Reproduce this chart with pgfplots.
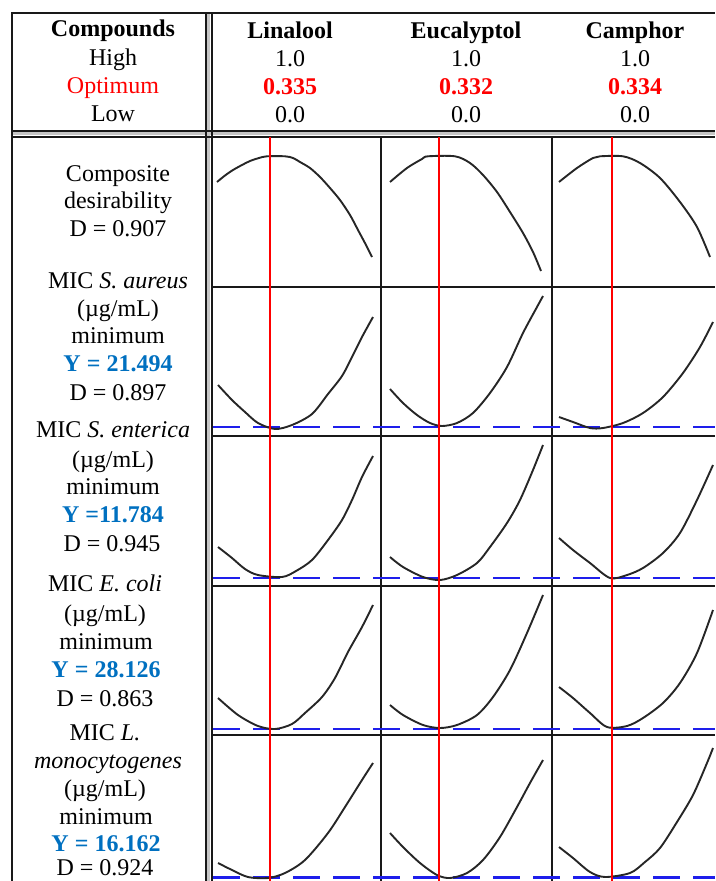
\documentclass[border=0pt]{standalone}
\usepackage{fontspec}
\setmainfont{Liberation Serif}
\usepackage{pgfplots}
\pgfplotsset{compat=1.18}
\definecolor{optred}{RGB}{255,0,0}
\definecolor{yblue}{RGB}{0,112,192}
\definecolor{dashblue}{RGB}{30,30,235}
\tikzset{
  curve/.style={black!85, line width=1.9pt, smooth},
  optline/.style={optred, line width=2pt},
  minline/.style={dashblue, line width=2.4pt, dash pattern=on 27pt off 13pt},
  grid/.style={black!90, line width=2.4pt},
  lbl/.style={font=\fontsize{24}{28}\selectfont, inner sep=0pt, anchor=base},
}
\begin{document}
\begin{tikzpicture}
\begin{axis}[
  scale only axis, width=715pt, height=881pt,
  xmin=0, xmax=715, ymin=0, ymax=881, y dir=reverse,
  ticks=none, axis line style={draw=none},
]
% ---- frame: double lines with grey fill
\fill[gray!45] (axis cs:12,132.2) rectangle (axis cs:715,135.4);
\fill[gray!45] (axis cs:207.2,13) rectangle (axis cs:210.4,881);
\draw[grid, line width=2pt] (axis cs:12,131) -- (axis cs:715,131);
\draw[grid, line width=2pt] (axis cs:12,136.6) -- (axis cs:715,136.6);
\draw[grid, line width=2pt] (axis cs:206,13) -- (axis cs:206,881);
\draw[grid, line width=2pt] (axis cs:211.6,13) -- (axis cs:211.6,881);
\draw[grid] (axis cs:11,13) -- (axis cs:715,13);
\draw[grid] (axis cs:12,12) -- (axis cs:12,881);
% ---- panel grid
\draw[grid] (axis cs:381,137) -- (axis cs:381,881);
\draw[grid] (axis cs:552,137) -- (axis cs:552,881);
\draw[grid] (axis cs:212,287) -- (axis cs:715,287);
\draw[grid] (axis cs:212,436) -- (axis cs:715,436);
\draw[grid] (axis cs:212,586) -- (axis cs:715,586);
\draw[grid] (axis cs:212,735) -- (axis cs:715,735);

% ---- minimum (target) lines
\addplot[minline] coordinates {(213,427) (715,427)};
\addplot[minline] coordinates {(213,578) (715,578)};
\addplot[minline] coordinates {(213,729) (715,729)};
\addplot[minline] coordinates {(213,877.5) (715,877.5)};

% ---- composite desirability
\addplot[curve] coordinates {(217,182) (225,175.5) (233,170) (242,165) (250,161) (259,158) (267,156.3) (285,156.3) (293,158) (300,162) (310,168) (320,177) (330,188) (340,200) (350,215) (358,230) (366,245) (372,257)};
\addplot[curve] coordinates {(390,182) (407,168) (422,159) (428,156.3) (455,156.3) (470,163) (483,175) (497,192) (510,212) (523,233) (533,252) (541,271)};
\addplot[curve] coordinates {(559,182) (577,168) (593,158) (600,156.3) (623,156.3) (640,163) (660,178) (680,202) (697,227) (710,257)};
% ---- S. aureus
\addplot[curve] coordinates {(218,385) (232,400) (245,412) (258,423) (275,429) (292,425) (312,414) (328,394) (342,376) (352,357) (362,337) (373,317)};
\addplot[curve] coordinates {(390,389) (403,403) (417,415) (430,423) (442,426) (457,423) (473,413) (490,393) (507,367) (523,333) (537,307) (543,296)};
\addplot[curve] coordinates {(559,417) (573,422) (590,428) (603,428) (623,423) (643,413) (663,397) (683,373) (700,347) (713,322)};
% ---- S. enterica
\addplot[curve] coordinates {(218,547) (232,558) (245,569) (258,575) (282,577) (296,571) (312,560) (328,540) (342,520) (352,500) (362,477) (373,456)};
\addplot[curve] coordinates {(390,557) (403,567) (423,577) (440,580) (457,575) (477,563) (490,547) (507,523) (520,500) (533,470) (543,445)};
\addplot[curve] coordinates {(559,538) (573,550) (590,563) (610,578) (627,575) (643,568) (663,553) (680,533) (697,500) (713,465)};
% ---- E. coli
\addplot[curve] coordinates {(218,698) (238,715) (258,726) (275,729) (292,724) (305,713) (322,697) (335,678) (348,652) (362,627) (373,605)};
\addplot[curve] coordinates {(390,705) (403,715) (423,725) (440,728) (457,725) (477,715) (493,697) (510,670) (527,633) (543,595)};
\addplot[curve] coordinates {(559,687) (573,698) (590,713) (607,727) (627,726) (643,718) (663,703) (680,683) (697,653) (713,610)};
% ---- L. monocytogenes
\addplot[curve] coordinates {(218,863) (232,870) (248,877) (268,878) (285,873) (305,860) (328,833) (345,807) (362,780) (373,763)};
\addplot[curve] coordinates {(390,833) (403,847) (420,863) (437,875) (450,878) (467,873) (483,860) (500,837) (517,807) (530,783) (543,760)};
\addplot[curve] coordinates {(559,847) (573,858) (590,872) (605,877) (630,873) (645,862) (660,848) (677,822) (693,795) (707,763) (713,748)};

% ---- optimum settings
\addplot[optline] coordinates {(270,137) (270,881)};
\addplot[optline] coordinates {(439,137) (439,881)};
\addplot[optline] coordinates {(612,137) (612,881)};

% ---- header text
\node[lbl] at (axis cs:113,36) {\textbf{Compounds}};
\node[lbl] at (axis cs:113,65) {High};
\node[lbl, text=optred] at (axis cs:113,93) {Optimum};
\node[lbl] at (axis cs:113,121) {Low};

\node[lbl] at (axis cs:290,38) {\textbf{Linalool}};
\node[lbl] at (axis cs:290,66) {1.0};
\node[lbl, text=optred] at (axis cs:290,94) {\textbf{0.335}};
\node[lbl] at (axis cs:290,122) {0.0};

\node[lbl] at (axis cs:466,38) {\textbf{Eucalyptol}};
\node[lbl] at (axis cs:466,66) {1.0};
\node[lbl, text=optred] at (axis cs:466,94) {\textbf{0.332}};
\node[lbl] at (axis cs:466,122) {0.0};

\node[lbl] at (axis cs:635,38) {\textbf{Camphor}};
\node[lbl] at (axis cs:635,66) {1.0};
\node[lbl, text=optred] at (axis cs:635,94) {\textbf{0.334}};
\node[lbl] at (axis cs:635,122) {0.0};

% ---- response labels
\node[lbl] at (axis cs:118,181) {Composite};
\node[lbl] at (axis cs:118,208) {desirability};
\node[lbl] at (axis cs:118,236) {D = 0.907};

\node[lbl] at (axis cs:118,288) {MIC \textit{S. aureus}};
\node[lbl] at (axis cs:118,316) {(µg/mL)};
\node[lbl] at (axis cs:118,343) {minimum};
\node[lbl, text=yblue] at (axis cs:118,371) {\textbf{Y = 21.494}};
\node[lbl] at (axis cs:118,400) {D = 0.897};

\node[lbl] at (axis cs:113,437) {MIC \textit{S. enterica}};
\node[lbl] at (axis cs:113,467) {(µg/mL)};
\node[lbl] at (axis cs:113,494) {minimum};
\node[lbl, text=yblue] at (axis cs:113,522) {\textbf{Y =11.784}};
\node[lbl] at (axis cs:112,551) {D = 0.945};

\node[lbl] at (axis cs:105,591) {MIC \textit{E. coli}};
\node[lbl] at (axis cs:105,621) {(µg/mL)};
\node[lbl] at (axis cs:106,649) {minimum};
\node[lbl, text=yblue] at (axis cs:106,677) {\textbf{Y = 28.126}};
\node[lbl] at (axis cs:105,706) {D = 0.863};

\node[lbl] at (axis cs:105,740) {MIC \textit{L.}};
\node[lbl] at (axis cs:108,768) {\textit{monocytogenes}};
\node[lbl] at (axis cs:105,796) {(µg/mL)};
\node[lbl] at (axis cs:106,824) {minimum};
\node[lbl, text=yblue] at (axis cs:106,851) {\textbf{Y = 16.162}};
\node[lbl] at (axis cs:105,875) {D = 0.924};
\end{axis}
\end{tikzpicture}
\end{document}
